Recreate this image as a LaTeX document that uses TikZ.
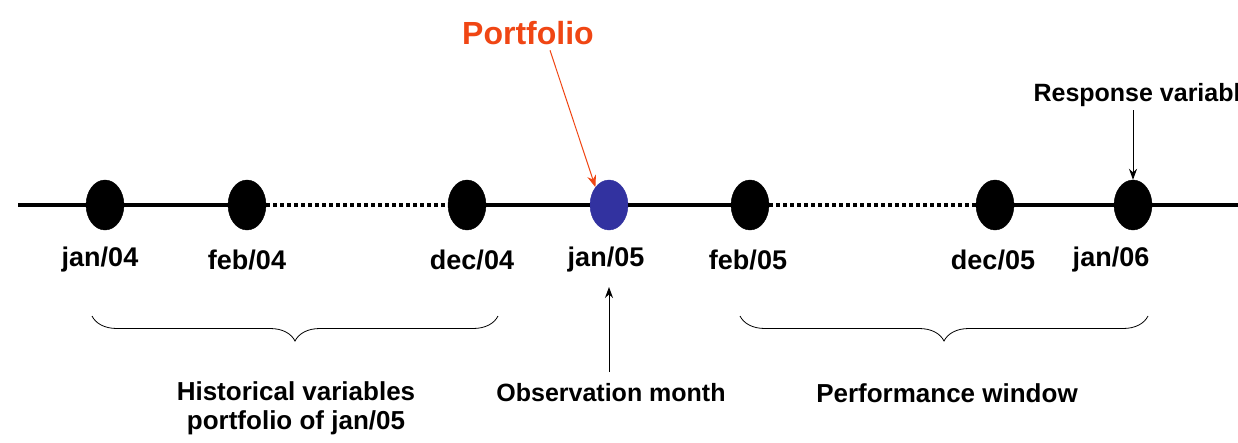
\documentclass[tikz,border=0pt]{standalone}
\usepackage{fontspec}
\setmainfont{Liberation Sans}
\usetikzlibrary{decorations.pathreplacing,arrows.meta,shapes.geometric}
\definecolor{portred}{RGB}{240,70,20}
\definecolor{obsblue}{RGB}{50,50,160}
\begin{document}
\begin{tikzpicture}[x=1pt,y=-1pt,
  dot/.style={ellipse,draw=black,fill=black,minimum width=38pt,minimum height=50pt,inner sep=0pt},
  lab/.style={font=\fontsize{27}{31}\selectfont\bfseries},
  tl/.style={line width=4pt},
  tld/.style={line width=4pt,dash pattern=on 4pt off 3pt},
  br/.style={decorate,decoration={brace,mirror,amplitude=25pt},line width=0.8pt}]
\clip (0,0) rectangle (1238,442);
\fill[white] (0,0) rectangle (1238,442);
\coordinate (L) at (18,205);
\coordinate (R) at (1238,205);
\node[dot] (a) at (105,205) {};
\node[dot] (b) at (247,205) {};
\node[dot] (c) at (467,205) {};
\node[dot,fill=obsblue,draw=obsblue] (d) at (609,205) {};
\node[dot] (e) at (750,205) {};
\node[dot] (f) at (995,205) {};
\node[dot] (g) at (1133,205) {};
\draw[tl] (L) -- (a) -- (b);
\draw[tld] (b) -- (c);
\draw[tl] (c) -- (d) -- (e);
\draw[tld] (e) -- (f);
\draw[tl] (f) -- (g) -- (R);
\node[lab] at (100,260) {jan/04};
\node[lab] at (247,260) {feb/04};
\node[lab] at (472,260) {dec/04};
\node[lab] at (606,260) {jan/05};
\node[lab] at (748,260) {feb/05};
\node[lab] at (993,260) {dec/05};
\node[lab] at (1111,260) {jan/06};
\node[font=\fontsize{32}{36}\selectfont\bfseries,text=portred] (p) at (528,33) {Portfolio};
\draw[portred,line width=1pt,-{Stealth[length=12pt,width=9pt]}] (p.south) ++(22,2) -- (d.north west);
\node[lab,anchor=west,font=\fontsize{25}{29}\selectfont\bfseries] (rv) at (1030,95) {Response variable};
\draw[line width=1pt,-{Stealth[length=11pt,width=8pt]}] (1133,110) -- (g.north);
\node[lab,font=\fontsize{25}{29}\selectfont\bfseries] (om) at (611,393) {Observation month};
\draw[line width=1pt,-{Stealth[length=11pt,width=8pt]}] (609,372) -- (609,287);
\draw[br] (92,316) -- (498,316);
\draw[br] (740,316) -- (1148,316);
\node[lab,align=center,font=\fontsize{26}{29}\selectfont\bfseries] at (296,408) {Historical variables\\portfolio of jan/05};
\node[lab,font=\fontsize{26}{30}\selectfont\bfseries] at (947,393) {Performance window};
\end{tikzpicture}
\end{document}
